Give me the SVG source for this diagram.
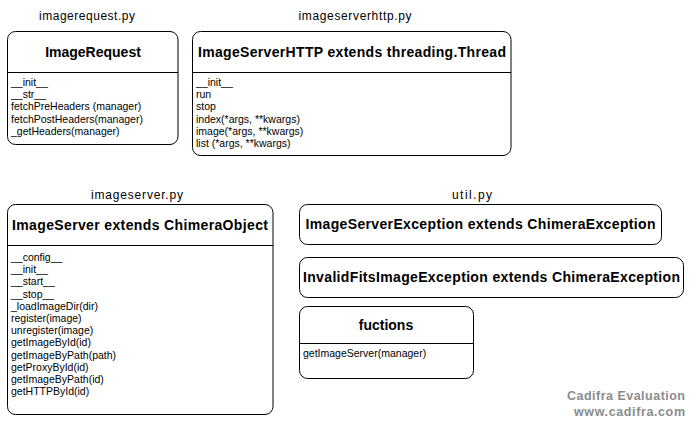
<svg xmlns="http://www.w3.org/2000/svg" width="692" height="423" viewBox="0 0 692 423">
<style>
.box{fill:#fff;stroke:#000;stroke-width:1}
.div{stroke:#000;stroke-width:1}
.title{font-family:"Liberation Sans",Arial,sans-serif;font-weight:bold;font-size:14px;text-anchor:middle;fill:#000}
.m{font-family:"Liberation Sans",Arial,sans-serif;font-size:10.5px;fill:#000}
.lbl{font-family:"Liberation Sans",Arial,sans-serif;font-size:12px;text-anchor:middle;fill:#000}
.wm{font-family:"Liberation Sans",Arial,sans-serif;font-weight:bold;font-size:12.5px;text-anchor:end;fill:#8c8c8c}
</style>
<rect width="692" height="423" fill="#fff"/>
<g id="labels">
<text class="lbl" x="87" y="20" textLength="96">imagerequest.py</text>
<text class="lbl" x="355" y="20" textLength="113">imageserverhttp.py</text>
<text class="lbl" x="137" y="199" textLength="92">imageserver.py</text>
<text class="lbl" x="472" y="199" textLength="40">util.py</text>
</g>
<g id="ImageRequest">
<rect class="box" x="7.5" y="31.5" width="170.5" height="113" rx="8"/>
<line class="div" x1="7.5" y1="72.5" x2="178" y2="72.5"/>
<text class="title" x="93" y="57">ImageRequest</text>
<text class="m" x="11" y="86">__init__</text>
<text class="m" x="11" y="98.2">__str__</text>
<text class="m" x="11" y="110.4">fetchPreHeaders (manager)</text>
<text class="m" x="11" y="122.6">fetchPostHeaders(manager)</text>
<text class="m" x="11" y="134.8">_getHeaders(manager)</text>
</g>
<g id="ImageServerHTTP">
<rect class="box" x="192.5" y="31.5" width="318.5" height="124" rx="8"/>
<line class="div" x1="192.5" y1="72.5" x2="511" y2="72.5"/>
<text class="title" x="352" y="57" textLength="308">ImageServerHTTP extends threading.Thread</text>
<text class="m" x="196" y="86">__init__</text>
<text class="m" x="196" y="98.2">run</text>
<text class="m" x="196" y="110.4">stop</text>
<text class="m" x="196" y="122.6">index(*args, **kwargs)</text>
<text class="m" x="196" y="134.8">image(*args, **kwargs)</text>
<text class="m" x="196" y="147">list (*args, **kwargs)</text>
</g>
<g id="ImageServer">
<rect class="box" x="7.5" y="204.5" width="265.5" height="210" rx="8"/>
<line class="div" x1="7.5" y1="245.5" x2="273" y2="245.5"/>
<text class="title" x="140" y="230" textLength="256">ImageServer extends ChimeraObject</text>
<text class="m" x="11" y="261">__config__</text>
<text class="m" x="11" y="273.2">__init__</text>
<text class="m" x="11" y="285.4">__start__</text>
<text class="m" x="11" y="297.6">__stop__</text>
<text class="m" x="11" y="309.8">_loadImageDir(dir)</text>
<text class="m" x="11" y="322">register(image)</text>
<text class="m" x="11" y="334.2">unregister(image)</text>
<text class="m" x="11" y="346.4">getImageById(id)</text>
<text class="m" x="11" y="358.6">getImageByPath(path)</text>
<text class="m" x="11" y="370.8">getProxyById(id)</text>
<text class="m" x="11" y="383">getImageByPath(id)</text>
<text class="m" x="11" y="395.2">getHTTPById(id)</text>
</g>
<g id="ImageServerException">
<rect class="box" x="299.5" y="204.5" width="362" height="40" rx="8"/>
<text class="title" x="480.5" y="229" textLength="350">ImageServerException extends ChimeraException</text>
</g>
<g id="InvalidFitsImageException">
<rect class="box" x="299.5" y="257.5" width="384" height="40" rx="8"/>
<text class="title" x="491.5" y="282" textLength="377">InvalidFitsImageException extends ChimeraException</text>
</g>
<g id="fuctions">
<rect class="box" x="299.5" y="306.5" width="174" height="72" rx="8"/>
<line class="div" x1="299.5" y1="343.5" x2="473.5" y2="343.5"/>
<text class="title" x="386" y="330">fuctions</text>
<text class="m" x="303" y="357">getImageServer(manager)</text>
</g>
<g id="connectors"></g>
<g id="watermark">
<text class="wm" x="685" y="400" textLength="118">Cadifra Evaluation</text>
<text class="wm" x="685" y="415.5" textLength="111">www.cadifra.com</text>
</g>
</svg>
